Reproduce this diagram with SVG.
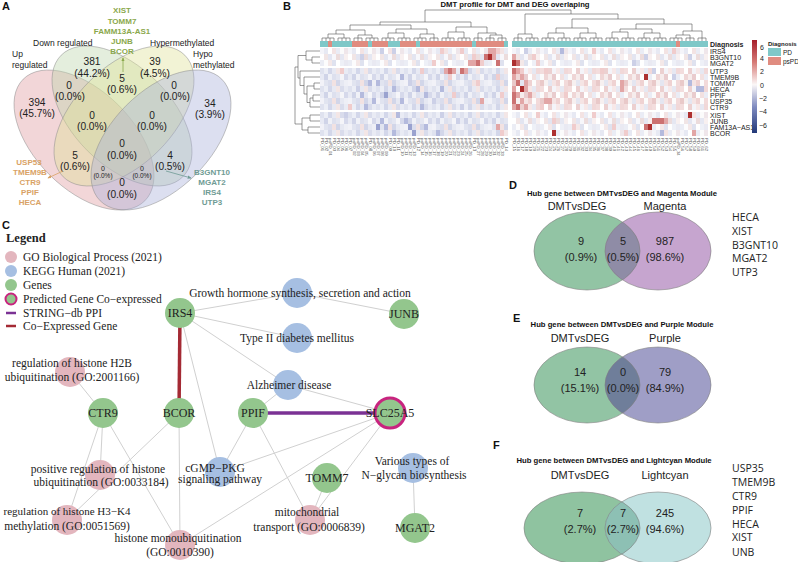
<svg xmlns="http://www.w3.org/2000/svg" width="798" height="562" viewBox="0 0 798 562">
<style>
.pl{font-family:"Liberation Sans",Arial,sans-serif;font-weight:bold;font-size:11px;fill:#111}
.vn{font-family:"Liberation Sans",Arial,sans-serif;font-size:10.2px;fill:#222;text-anchor:middle}
.vs{font-family:"Liberation Sans",Arial,sans-serif;font-size:6.5px;fill:#222;text-anchor:middle}
.vl{font-family:"Liberation Sans",Arial,sans-serif;font-size:8.5px;fill:#222}
.gg{font-family:"Liberation Sans",Arial,sans-serif;font-size:8px;font-weight:bold;text-anchor:middle}
.ell{stroke:#8c8c8c;stroke-width:0.5}
.ht{font-family:"Liberation Sans",Arial,sans-serif;font-size:7.7px;font-weight:bold;fill:#111}
.rl{font-family:"Liberation Sans",Arial,sans-serif;font-size:7px;fill:#222}
.cl{font-family:"Liberation Sans",Arial,sans-serif;font-size:4.3px;fill:#555}
.dg{fill:none;stroke:#555;stroke-width:0.6}
.c1{fill:#f0cccc}.c2{fill:#e2a6a6}.c3{fill:#cc7272}.c4{fill:#ad3030}
.d1{fill:#ccd0e7}.d2{fill:#b4badd}.d3{fill:#9aa2cf}
.lg{font-family:"Liberation Serif","Times New Roman",serif;font-size:11.5px;fill:#222}
.nt{font-family:"Liberation Serif","Times New Roman",serif;font-size:11.5px;fill:#222;text-anchor:middle}
.gt{font-family:"Liberation Serif","Times New Roman",serif;font-size:12px;fill:#222;text-anchor:middle}
.gn{fill:#93c68d}
.go{fill:#e3b6be}
.kg{fill:#a6bfe2}
.ed{stroke:#d0d0d0;stroke-width:1;fill:none}
.vt{font-family:"Liberation Sans",Arial,sans-serif;font-size:11px;fill:#222;text-anchor:middle}
.gl{font-family:"Open Sans","Liberation Sans",sans-serif;font-size:10.5px;fill:#222}
.vo{stroke:#7d7d7d;stroke-width:0.6}
</style>
<defs>
<marker id="mG" viewBox="0 0 6 6" refX="5" refY="3" markerWidth="5" markerHeight="5" orient="auto"><path d="M0,0.5L6,3L0,5.5z" fill="#8aa84c"/></marker>
<marker id="mO" viewBox="0 0 6 6" refX="5" refY="3" markerWidth="5" markerHeight="5" orient="auto"><path d="M0,0.5L6,3L0,5.5z" fill="#d9a265"/></marker>
<marker id="mT" viewBox="0 0 6 6" refX="5" refY="3" markerWidth="5" markerHeight="5" orient="auto"><path d="M0,0.5L6,3L0,5.5z" fill="#6f9b94"/></marker>
<pattern id="pN" patternUnits="userSpaceOnUse" x="0" y="0" width="28" height="18">
<rect x="0" y="0" width="4" height="6" fill="#f4f4f9"/><rect x="4" y="0" width="4" height="6" fill="#e7e9f3"/><rect x="8" y="0" width="4" height="6" fill="#ffffff"/><rect x="12" y="0" width="4" height="6" fill="#f3e3e3"/><rect x="16" y="0" width="4" height="6" fill="#eaecf5"/><rect x="20" y="0" width="4" height="6" fill="#fbfbfb"/><rect x="24" y="0" width="4" height="6" fill="#efe6ea"/>
<rect x="0" y="6" width="4" height="6" fill="#ffffff"/><rect x="4" y="6" width="4" height="6" fill="#f1e5e5"/><rect x="8" y="6" width="4" height="6" fill="#e3e5f1"/><rect x="12" y="6" width="4" height="6" fill="#f7f7fb"/><rect x="16" y="6" width="4" height="6" fill="#ecdcdc"/><rect x="20" y="6" width="4" height="6" fill="#e5e7f2"/><rect x="24" y="6" width="4" height="6" fill="#f8f0f0"/>
<rect x="0" y="12" width="4" height="6" fill="#ebedf5"/><rect x="4" y="12" width="4" height="6" fill="#fcfcfd"/><rect x="8" y="12" width="4" height="6" fill="#f4e8e8"/><rect x="12" y="12" width="4" height="6" fill="#dfe2ef"/><rect x="16" y="12" width="4" height="6" fill="#ffffff"/><rect x="20" y="12" width="4" height="6" fill="#eef0f7"/><rect x="24" y="12" width="4" height="6" fill="#e9e9f2"/>
</pattern>
<pattern id="pB" patternUnits="userSpaceOnUse" x="0" y="0" width="28" height="18">
<rect x="0" y="0" width="4" height="6" fill="#dfe2ef"/><rect x="4" y="0" width="4" height="6" fill="#eceef6"/><rect x="8" y="0" width="4" height="6" fill="#d3d7ea"/><rect x="12" y="0" width="4" height="6" fill="#e7e9f3"/><rect x="16" y="0" width="4" height="6" fill="#f3e6e6"/><rect x="20" y="0" width="4" height="6" fill="#d9dcec"/><rect x="24" y="0" width="4" height="6" fill="#e9ebf4"/>
<rect x="0" y="6" width="4" height="6" fill="#e8eaf4"/><rect x="4" y="6" width="4" height="6" fill="#d0d4e8"/><rect x="8" y="6" width="4" height="6" fill="#f0f1f7"/><rect x="12" y="6" width="4" height="6" fill="#dde0ee"/><rect x="16" y="6" width="4" height="6" fill="#e4e6f1"/><rect x="20" y="6" width="4" height="6" fill="#f5f5f9"/><rect x="24" y="6" width="4" height="6" fill="#d6d9eb"/>
<rect x="0" y="12" width="4" height="6" fill="#f2f2f8"/><rect x="4" y="12" width="4" height="6" fill="#e1e4f0"/><rect x="8" y="12" width="4" height="6" fill="#dadded"/><rect x="12" y="12" width="4" height="6" fill="#f2e2e2"/><rect x="16" y="12" width="4" height="6" fill="#d2d6e9"/><rect x="20" y="12" width="4" height="6" fill="#e6e8f2"/><rect x="24" y="12" width="4" height="6" fill="#eeeff6"/>
</pattern>
<pattern id="pW" patternUnits="userSpaceOnUse" x="0" y="0" width="28" height="18">
<rect x="0" y="0" width="4" height="6" fill="#f3dddd"/><rect x="4" y="0" width="4" height="6" fill="#ffffff"/><rect x="8" y="0" width="4" height="6" fill="#ecd0d0"/><rect x="12" y="0" width="4" height="6" fill="#f4f4f9"/><rect x="16" y="0" width="4" height="6" fill="#f7e8e8"/><rect x="20" y="0" width="4" height="6" fill="#e6e8f2"/><rect x="24" y="0" width="4" height="6" fill="#f1d8d8"/>
<rect x="0" y="6" width="4" height="6" fill="#fbfbfb"/><rect x="4" y="6" width="4" height="6" fill="#efd6d6"/><rect x="8" y="6" width="4" height="6" fill="#f6ecec"/><rect x="12" y="6" width="4" height="6" fill="#e9ccce"/><rect x="16" y="6" width="4" height="6" fill="#ffffff"/><rect x="20" y="6" width="4" height="6" fill="#f2e1e1"/><rect x="24" y="6" width="4" height="6" fill="#eaecf5"/>
<rect x="0" y="12" width="4" height="6" fill="#e9c9c9"/><rect x="4" y="12" width="4" height="6" fill="#f7f0f0"/><rect x="8" y="12" width="4" height="6" fill="#e4e6f1"/><rect x="12" y="12" width="4" height="6" fill="#f5e4e4"/><rect x="16" y="12" width="4" height="6" fill="#efd2d2"/><rect x="20" y="12" width="4" height="6" fill="#fcfcfc"/><rect x="24" y="12" width="4" height="6" fill="#f2dada"/>
</pattern>
<linearGradient id="cbar" x1="0" y1="0" x2="0" y2="1">
<stop offset="0" stop-color="#a51f2b"/><stop offset="0.24" stop-color="#d67b77"/><stop offset="0.48" stop-color="#fbf7f7"/><stop offset="0.72" stop-color="#7f8bc0"/><stop offset="1" stop-color="#233878"/>
</linearGradient>
<clipPath id="cD"><ellipse cx="587" cy="251" rx="53" ry="39"/></clipPath>
<clipPath id="cE"><ellipse cx="587" cy="385" rx="53" ry="38"/></clipPath>
<clipPath id="cF"><ellipse cx="582" cy="528" rx="58" ry="36"/></clipPath>
</defs>

<!-- Panel labels -->
<text class="pl" x="2" y="10">A</text>
<text class="pl" x="283" y="10">B</text>
<text class="pl" x="2" y="229">C</text>
<text class="pl" x="509" y="189">D</text>
<text class="pl" x="513" y="322">E</text>
<text class="pl" x="493" y="449">F</text>

<!-- Panel A Venn -->
<g id="venn4">
<g id="set-up"><ellipse class="ell" cx="84" cy="140" rx="86" ry="49" transform="rotate(45 84 140)" fill="#df989d" fill-opacity="0.4"/></g>
<g id="set-down"><ellipse class="ell" cx="122" cy="116" rx="86" ry="49" transform="rotate(45 122 116)" fill="#bcd4aa" fill-opacity="0.4"/></g>
<g id="set-hyper"><ellipse class="ell" cx="124" cy="116" rx="86" ry="49" transform="rotate(-45 124 116)" fill="#dee196" fill-opacity="0.4"/></g>
<g id="set-hypo"><ellipse class="ell" cx="161" cy="140" rx="86" ry="49" transform="rotate(-45 161 140)" fill="#a7afd9" fill-opacity="0.4"/></g>
<text class="vl" x="12" y="57">Up</text>
<text class="vl" x="12" y="68">regulated</text>
<text class="vl" x="33" y="46">Down regulated</text>
<text class="vl" x="150" y="46">Hypermethylated</text>
<text class="vl" x="193" y="57">Hypo</text>
<text class="vl" x="193" y="68">methylated</text>
<text class="vn" x="37" y="106">394</text><text class="vn" x="37" y="117">(45.7%)</text>
<text class="vn" x="92" y="65">381</text><text class="vn" x="92" y="76.5">(44.2%)</text>
<text class="vn" x="122" y="82">5</text><text class="vn" x="122" y="93">(0.6%)</text>
<text class="vn" x="155" y="65">39</text><text class="vn" x="155" y="76.5">(4.5%)</text>
<text class="vn" x="210" y="107">34</text><text class="vn" x="210" y="118">(3.9%)</text>
<text class="vn" x="69" y="89">0</text><text class="vn" x="70" y="100">(0.0%)</text>
<text class="vn" x="92" y="119">0</text><text class="vn" x="92" y="130">(0.0%)</text>
<text class="vn" x="174" y="89">0</text><text class="vn" x="175" y="100">(0.0%)</text>
<text class="vn" x="152" y="119">0</text><text class="vn" x="152" y="130">(0.0%)</text>
<text class="vn" x="122" y="147">0</text><text class="vn" x="122" y="159">(0.0%)</text>
<text class="vn" x="75" y="159">5</text><text class="vn" x="75" y="170">(0.6%)</text>
<text class="vn" x="170" y="159">4</text><text class="vn" x="170" y="170">(0.5%)</text>
<text class="vs" x="103" y="171" style="font-size:7px">0</text><text class="vs" x="103" y="178">(0.0%)</text>
<text class="vs" x="142" y="171" style="font-size:7px">0</text><text class="vs" x="142" y="178">(0.0%)</text>
<text class="vn" x="122" y="186">0</text><text class="vn" x="122" y="197.5">(0.0%)</text>
<text class="gg" x="122" y="13" fill="#8aa84c">XIST</text>
<text class="gg" x="122" y="24" fill="#8aa84c">TOMM7</text>
<text class="gg" x="122" y="34" fill="#8aa84c">FAMM13A-AS1</text>
<text class="gg" x="122" y="44" fill="#8aa84c">JUNB</text>
<text class="gg" x="122" y="54" fill="#8aa84c">BCOR</text>
<text class="gg" x="29" y="165" fill="#d9a265">USP53</text>
<text class="gg" x="30" y="175" fill="#d9a265">TMEM9B</text>
<text class="gg" x="30" y="185" fill="#d9a265">CTR9</text>
<text class="gg" x="30" y="195" fill="#d9a265">PPIF</text>
<text class="gg" x="30" y="205" fill="#d9a265">HECA</text>
<text class="gg" x="212" y="175" fill="#6f9b94">B3GNT10</text>
<text class="gg" x="212" y="185" fill="#6f9b94">MGAT2</text>
<text class="gg" x="212" y="195" fill="#6f9b94">IRS4</text>
<text class="gg" x="212" y="205" fill="#6f9b94">UTP3</text>
<line x1="123" y1="72" x2="123" y2="58" stroke="#8aa84c" stroke-width="0.8" marker-end="url(#mG)"/>
<line x1="63" y1="171" x2="48" y2="178" stroke="#d9a265" stroke-width="0.8" marker-end="url(#mO)"/>
<line x1="166" y1="171" x2="191" y2="178" stroke="#6f9b94" stroke-width="0.8" marker-end="url(#mT)"/>
</g>

<!-- Panel B heatmap -->
<g id="heatmap">
<text class="ht" x="515" y="7" text-anchor="middle">DMT profile for DMT and DEG overlaping</text>
<path class="dg" d="M425,10H571M425,10V22M571,10V14
M380,22H471M380,22V25M471,22V27
M350,25H411M350,25V30M411,25V29
M336,30H365M336,30V34M365,30V35
M396,29H427M396,29V33M427,29V34
M456,27H487M456,27V32M487,27V33
M328,34H344M328,34V38M344,34V38
M358,35H372M358,35V38M372,35V38
M388,33H404M388,33V38M404,33V38
M420,34H434M420,34V38M434,34V38
M448,32H464M448,32V38M464,32V38
M490,35H502M490,35V38M502,35V38
M478,33H496M478,33V38M496,33V35
M322,38H334M338,38H350M354,38H362M366,38H378M382,38H394M398,38H410M414,38H426M430,38H438M442,38H454M458,38H470M474,38H482M486,38H494M498,38H506
M322,38v3m4-3v3m4-3v3m4-3v3m4-3v3m4-3v3m4-3v3m4-3v3m4-3v3m4-3v3m4-3v3m4-3v3m4-3v3m4-3v3m4-3v3m4-3v3m4-3v3m4-3v3m4-3v3m4-3v3m4-3v3m4-3v3m4-3v3m4-3v3m4-3v3m4-3v3m4-3v3m4-3v3m4-3v3m4-3v3m4-3v3m4-3v3m4-3v3m4-3v3m4-3v3m4-3v3m4-3v3m4-3v3m4-3v3m4-3v3m4-3v3m4-3v3m4-3v3m4-3v3m4-3v3m4-3v3m4-3v3
M525,14H618M525,14V34M618,14V19
M572,19H664M572,19V28M664,19V24
M556,28H588M556,28V33M588,28V33
M636,24H692M636,24V29M692,24V31
M620,29H652M620,29V32M652,29V33
M683,31H702M683,31V35M702,31V38
M518,34H532M518,34V38M532,34V38
M548,33H564M548,33V38M564,33V38
M580,33H596M580,33V38M596,33V38
M612,32H628M612,32V38M628,32V38
M644,33H660M644,33V38M660,33V38
M676,35H690M676,35V38M690,35V38
M514,38H522M526,38H538M542,38H554M558,38H570M574,38H586M590,38H602M606,38H618M622,38H634M638,38H650M654,38H666M670,38H682M686,38H694M698,38H706
M514,38v3m4-3v3m4-3v3m4-3v3m4-3v3m4-3v3m4-3v3m4-3v3m4-3v3m4-3v3m4-3v3m4-3v3m4-3v3m4-3v3m4-3v3m4-3v3m4-3v3m4-3v3m4-3v3m4-3v3m4-3v3m4-3v3m4-3v3m4-3v3m4-3v3m4-3v3m4-3v3m4-3v3m4-3v3m4-3v3m4-3v3m4-3v3m4-3v3m4-3v3m4-3v3m4-3v3m4-3v3m4-3v3m4-3v3m4-3v3m4-3v3m4-3v3m4-3v3m4-3v3m4-3v3m4-3v3m4-3v3m4-3v3m4-3v3"/>
<path class="dg" d="M312,57H320M312,63H320M312,57V63
M306,51H320M306,60H312M306,51V60
M314,83H320M314,89H320M314,83V89
M313,95H320M313,101H320M313,95V101
M310,98H313M310,107H320M310,98V107
M307,86H314M307,102.5H310M307,86V102.5
M304,77H320M304,94H307M304,77V94
M300,71H320M300,85.5H304M300,71V85.5
M310,115H320M310,121H320M310,115V121
M308,127H320M308,133H320M308,127V133
M302,118H310M302,130H308M302,118V130
M298,55.5H306M298,78H300M298,55.5V78
M295,67H298M295,124H302M295,67V124"/>
<!-- annotation bar -->
<rect x="320" y="41" width="188" height="6" fill="#7fc8c8"/>
<rect x="512" y="41" width="196" height="6" fill="#7fc8c8"/>
<g fill="#e08c80">
<rect x="328" y="41" width="4" height="6"/><rect x="352" y="41" width="16" height="6"/><rect x="372" y="41" width="16" height="6"/><rect x="400" y="41" width="16" height="6"/><rect x="420" y="41" width="52" height="6"/><rect x="476" y="41" width="28" height="6"/><rect x="676" y="41" width="4" height="6"/>
</g>
<!-- base cells -->
<g transform="translate(320,48)"><rect width="188" height="18" fill="url(#pN)"/></g>
<g transform="translate(320,68)"><rect width="188" height="42" fill="url(#pB)"/></g>
<g transform="translate(320,112)"><rect width="188" height="24" fill="url(#pB)"/></g>
<g transform="translate(512,48)"><rect width="196" height="18" fill="url(#pN)"/></g>
<g transform="translate(512,68)"><rect width="196" height="42" fill="url(#pW)"/></g>
<g transform="translate(512,112)"><rect width="196" height="24" fill="url(#pN)"/></g>
<!-- highlighted cells -->
<g>
<rect class="c2" x="488" y="48" width="4" height="6"/><rect class="c2" x="492" y="48" width="4" height="6"/><rect class="c1" x="496" y="48" width="4" height="6"/><rect class="d1" x="380" y="48" width="4" height="6"/><rect class="d1" x="392" y="48" width="4" height="6"/><rect class="c1" x="460" y="48" width="4" height="6"/><rect class="c1" x="440" y="48" width="4" height="6"/>
<rect class="c3" x="484" y="54" width="4" height="6"/><rect class="c4" x="488" y="54" width="4" height="6"/><rect class="c2" x="492" y="54" width="4" height="6"/><rect class="c1" x="472" y="54" width="4" height="6"/><rect class="d1" x="360" y="54" width="4" height="6"/>
<rect class="c2" x="468" y="60" width="4" height="6"/><rect class="c2" x="472" y="60" width="4" height="6"/><rect class="c3" x="476" y="60" width="4" height="6"/><rect class="c1" x="480" y="60" width="4" height="6"/><rect class="c3" x="496" y="60" width="4" height="6"/><rect class="c1" x="432" y="60" width="4" height="6"/>
<rect class="c2" x="444" y="68" width="4" height="6"/><rect class="c3" x="448" y="68" width="4" height="6"/><rect class="c2" x="452" y="68" width="4" height="6"/><rect class="c3" x="460" y="68" width="4" height="6"/><rect class="c2" x="464" y="68" width="4" height="6"/><rect class="c1" x="420" y="68" width="4" height="6"/><rect class="c1" x="340" y="68" width="4" height="6"/>
<rect class="c1" x="448" y="74" width="4" height="6"/><rect class="d2" x="400" y="74" width="4" height="6"/><rect class="c1" x="496" y="74" width="4" height="6"/>
<rect class="d2" x="368" y="80" width="4" height="6"/><rect class="d2" x="376" y="80" width="4" height="6"/><rect class="d1" x="408" y="80" width="4" height="6"/><rect class="c1" x="476" y="80" width="4" height="6"/>
<rect class="d2" x="392" y="86" width="4" height="6"/><rect class="d2" x="416" y="86" width="4" height="6"/><rect class="d1" x="356" y="86" width="4" height="6"/><rect class="d2" x="440" y="86" width="4" height="6"/>
<rect class="d2" x="360" y="92" width="4" height="6"/><rect class="d3" x="384" y="92" width="4" height="6"/><rect class="d2" x="424" y="92" width="4" height="6"/><rect class="c1" x="452" y="92" width="4" height="6"/><rect class="c1" x="500" y="92" width="4" height="6"/>
<rect class="d2" x="372" y="98" width="4" height="6"/><rect class="d2" x="400" y="98" width="4" height="6"/><rect class="d1" x="432" y="98" width="4" height="6"/><rect class="c2" x="480" y="98" width="4" height="6"/>
<rect class="d2" x="364" y="104" width="4" height="6"/><rect class="c1" x="348" y="104" width="4" height="6"/><rect class="d2" x="420" y="104" width="4" height="6"/><rect class="d1" x="460" y="104" width="4" height="6"/>
<rect class="d1" x="344" y="112" width="4" height="6"/><rect class="d2" x="396" y="112" width="4" height="6"/><rect class="d1" x="440" y="112" width="4" height="6"/>
<rect class="d2" x="380" y="118" width="4" height="6"/><rect class="d2" x="404" y="118" width="4" height="6"/><rect class="d1" x="456" y="118" width="4" height="6"/>
<rect class="d3" x="376" y="124" width="4" height="6"/><rect class="d2" x="384" y="124" width="4" height="6"/><rect class="d3" x="408" y="124" width="4" height="6"/><rect class="d2" x="424" y="124" width="4" height="6"/><rect class="c2" x="496" y="124" width="4" height="6"/>
<rect class="d2" x="392" y="130" width="4" height="6"/><rect class="d3" x="412" y="130" width="4" height="6"/><rect class="d2" x="436" y="130" width="4" height="6"/><rect class="c1" x="500" y="130" width="4" height="6"/>
<rect class="d1" x="524" y="48" width="4" height="6"/><rect class="d2" x="560" y="48" width="4" height="6"/><rect class="c1" x="592" y="48" width="4" height="6"/><rect class="c1" x="672" y="48" width="4" height="6"/>
<rect class="c2" x="512" y="54" width="4" height="6"/><rect class="c1" x="532" y="54" width="4" height="6"/><rect class="d1" x="644" y="54" width="4" height="6"/><rect class="d1" x="688" y="54" width="4" height="6"/>
<rect class="c4" x="512" y="60" width="4" height="6"/><rect class="c3" x="516" y="60" width="4" height="6"/><rect class="c1" x="536" y="60" width="4" height="6"/><rect class="d1" x="632" y="60" width="4" height="6"/>
<rect class="c3" x="512" y="68" width="4" height="6"/><rect class="c2" x="516" y="68" width="4" height="6"/><rect class="c1" x="520" y="68" width="4" height="6"/><rect class="c1" x="544" y="68" width="4" height="6"/><rect class="c1" x="600" y="68" width="4" height="6"/><rect class="d1" x="652" y="68" width="4" height="6"/>
<rect class="c2" x="512" y="74" width="4" height="6"/><rect class="c2" x="520" y="74" width="4" height="6"/><rect class="c4" x="644" y="74" width="4" height="6"/><rect class="d1" x="672" y="74" width="4" height="6"/>
<rect class="c3" x="516" y="80" width="4" height="6"/><rect class="c2" x="524" y="80" width="4" height="6"/><rect class="c2" x="620" y="80" width="4" height="6"/><rect class="d2" x="688" y="80" width="4" height="6"/>
<rect class="c2" x="512" y="86" width="4" height="6"/><rect class="c4" x="520" y="86" width="4" height="6"/><rect class="c2" x="524" y="86" width="4" height="6"/><rect class="c2" x="620" y="86" width="4" height="6"/><rect class="d2" x="696" y="86" width="4" height="6"/><rect class="d2" x="700" y="86" width="4" height="6"/>
<rect class="c3" x="512" y="92" width="4" height="6"/><rect class="c2" x="516" y="92" width="4" height="6"/><rect class="c2" x="528" y="92" width="4" height="6"/><rect class="c1" x="564" y="92" width="4" height="6"/><rect class="c1" x="656" y="92" width="4" height="6"/>
<rect class="c3" x="512" y="98" width="4" height="6"/><rect class="c2" x="520" y="98" width="4" height="6"/><rect class="c2" x="544" y="98" width="4" height="6"/><rect class="c2" x="548" y="98" width="4" height="6"/>
<rect class="c2" x="512" y="104" width="4" height="6"/><rect class="c3" x="516" y="104" width="4" height="6"/><rect class="c2" x="524" y="104" width="4" height="6"/><rect class="c1" x="540" y="104" width="4" height="6"/>
<rect class="c4" x="688" y="112" width="4" height="6"/><rect class="c1" x="536" y="112" width="4" height="6"/><rect class="c1" x="592" y="112" width="4" height="6"/>
<rect class="c3" x="652" y="118" width="4" height="6"/><rect class="c3" x="656" y="118" width="4" height="6"/><rect class="c3" x="660" y="118" width="4" height="6"/><rect class="c2" x="664" y="118" width="4" height="6"/><rect class="c1" x="552" y="118" width="4" height="6"/>
<rect class="c4" x="648" y="124" width="4" height="6"/><rect class="c3" x="644" y="124" width="4" height="6"/><rect class="c1" x="572" y="124" width="4" height="6"/><rect class="c1" x="612" y="124" width="4" height="6"/>
<rect class="c4" x="552" y="130" width="4" height="6"/><rect class="c1" x="624" y="130" width="4" height="6"/><rect class="d2" x="660" y="130" width="4" height="6"/><rect class="c2" x="692" y="130" width="4" height="6"/>
</g>
<!-- row labels -->
<text class="rl" x="710" y="46.5" font-weight="bold">Diagnosis</text>
<text class="rl" x="710" y="53.5">IRS4</text>
<text class="rl" x="710" y="59.5">B3GNT10</text>
<text class="rl" x="710" y="65.5">MGAT2</text>
<text class="rl" x="710" y="73.5">UTP3</text>
<text class="rl" x="710" y="79.5">TMEM9B</text>
<text class="rl" x="710" y="85.5">TOMM7</text>
<text class="rl" x="710" y="91.5">HECA</text>
<text class="rl" x="710" y="97.5">PPIF</text>
<text class="rl" x="710" y="103.5">USP35</text>
<text class="rl" x="710" y="109.5">CTR9</text>
<text class="rl" x="710" y="117.5">XIST</text>
<text class="rl" x="710" y="123.5">JUNB</text>
<text class="rl" x="710" y="129.5">FAM13A−AS1</text>
<text class="rl" x="710" y="135.5">BCOR</text>
<!-- column labels -->
<text class="cl" transform="rotate(90)">
<tspan x="138" y="-320.5">PD_01</tspan><tspan x="138" y="-324.5">PD_02</tspan><tspan x="138" y="-328.5">psPD_01</tspan><tspan x="138" y="-332.5">PD_03</tspan><tspan x="138" y="-336.5">PD_04</tspan><tspan x="138" y="-340.5">PD_05</tspan><tspan x="138" y="-344.5">PD_06</tspan><tspan x="138" y="-348.5">PD_07</tspan><tspan x="138" y="-352.5">psPD_02</tspan><tspan x="138" y="-356.5">psPD_03</tspan><tspan x="138" y="-360.5">psPD_04</tspan><tspan x="138" y="-364.5">psPD_05</tspan><tspan x="138" y="-368.5">PD_08</tspan><tspan x="138" y="-372.5">psPD_06</tspan><tspan x="138" y="-376.5">psPD_07</tspan><tspan x="138" y="-380.5">psPD_08</tspan><tspan x="138" y="-384.5">psPD_09</tspan><tspan x="138" y="-388.5">PD_09</tspan><tspan x="138" y="-392.5">PD_10</tspan><tspan x="138" y="-396.5">PD_11</tspan><tspan x="138" y="-400.5">psPD_10</tspan><tspan x="138" y="-404.5">psPD_11</tspan><tspan x="138" y="-408.5">psPD_12</tspan><tspan x="138" y="-412.5">psPD_13</tspan><tspan x="138" y="-416.5">PD_12</tspan><tspan x="138" y="-420.5">psPD_14</tspan><tspan x="138" y="-424.5">psPD_15</tspan><tspan x="138" y="-428.5">psPD_16</tspan><tspan x="138" y="-432.5">psPD_17</tspan><tspan x="138" y="-436.5">psPD_18</tspan><tspan x="138" y="-440.5">psPD_19</tspan><tspan x="138" y="-444.5">psPD_20</tspan><tspan x="138" y="-448.5">psPD_21</tspan><tspan x="138" y="-452.5">psPD_22</tspan><tspan x="138" y="-456.5">psPD_23</tspan><tspan x="138" y="-460.5">psPD_24</tspan><tspan x="138" y="-464.5">psPD_25</tspan><tspan x="138" y="-468.5">psPD_26</tspan><tspan x="138" y="-472.5">PD_13</tspan><tspan x="138" y="-476.5">psPD_27</tspan><tspan x="138" y="-480.5">psPD_28</tspan><tspan x="138" y="-484.5">psPD_29</tspan><tspan x="138" y="-488.5">psPD_30</tspan><tspan x="138" y="-492.5">psPD_31</tspan><tspan x="138" y="-496.5">psPD_32</tspan><tspan x="138" y="-500.5">psPD_33</tspan><tspan x="138" y="-504.5">PD_14</tspan>
<tspan x="138" y="-512.5">PD_15</tspan><tspan x="138" y="-516.5">PD_16</tspan><tspan x="138" y="-520.5">PD_17</tspan><tspan x="138" y="-524.5">PD_18</tspan><tspan x="138" y="-528.5">PD_19</tspan><tspan x="138" y="-532.5">PD_20</tspan><tspan x="138" y="-536.5">PD_21</tspan><tspan x="138" y="-540.5">PD_22</tspan><tspan x="138" y="-544.5">PD_23</tspan><tspan x="138" y="-548.5">PD_24</tspan><tspan x="138" y="-552.5">PD_25</tspan><tspan x="138" y="-556.5">PD_26</tspan><tspan x="138" y="-560.5">PD_27</tspan><tspan x="138" y="-564.5">PD_28</tspan><tspan x="138" y="-568.5">PD_29</tspan><tspan x="138" y="-572.5">PD_30</tspan><tspan x="138" y="-576.5">PD_31</tspan><tspan x="138" y="-580.5">PD_32</tspan><tspan x="138" y="-584.5">PD_33</tspan><tspan x="138" y="-588.5">PD_34</tspan><tspan x="138" y="-592.5">PD_35</tspan><tspan x="138" y="-596.5">PD_36</tspan><tspan x="138" y="-600.5">PD_37</tspan><tspan x="138" y="-604.5">PD_38</tspan><tspan x="138" y="-608.5">PD_39</tspan><tspan x="138" y="-612.5">PD_40</tspan><tspan x="138" y="-616.5">PD_41</tspan><tspan x="138" y="-620.5">PD_42</tspan><tspan x="138" y="-624.5">PD_43</tspan><tspan x="138" y="-628.5">PD_44</tspan><tspan x="138" y="-632.5">PD_45</tspan><tspan x="138" y="-636.5">PD_46</tspan><tspan x="138" y="-640.5">PD_47</tspan><tspan x="138" y="-644.5">PD_48</tspan><tspan x="138" y="-648.5">PD_49</tspan><tspan x="138" y="-652.5">PD_50</tspan><tspan x="138" y="-656.5">PD_51</tspan><tspan x="138" y="-660.5">PD_52</tspan><tspan x="138" y="-664.5">PD_53</tspan><tspan x="138" y="-668.5">PD_54</tspan><tspan x="138" y="-672.5">PD_55</tspan><tspan x="138" y="-676.5">psPD_34</tspan><tspan x="138" y="-680.5">PD_56</tspan><tspan x="138" y="-684.5">PD_57</tspan><tspan x="138" y="-688.5">PD_58</tspan><tspan x="138" y="-692.5">PD_59</tspan><tspan x="138" y="-696.5">PD_60</tspan><tspan x="138" y="-700.5">PD_61</tspan><tspan x="138" y="-704.5">PD_62</tspan>
</text>
<!-- colour legend -->
<rect x="752" y="40" width="5" height="93" fill="url(#cbar)"/>
<g class="rl" style="font-size:7px">
<text x="760" y="49.5">6</text><text x="760" y="61">4</text><text x="760" y="74">2</text><text x="760" y="87.5">0</text><text x="759" y="100.5">−2</text><text x="759" y="114">−4</text><text x="759" y="128">−6</text>
</g>
<text class="rl" x="768" y="46" font-weight="bold" style="font-size:6px">Diagnosis</text>
<rect x="768" y="48" width="13" height="8" fill="#7fc8c8"/>
<rect x="768" y="57" width="13" height="8" fill="#e08c80"/>
<text class="rl" x="783" y="54.5" style="font-size:6.5px">PD</text>
<text class="rl" x="783" y="63.5" style="font-size:6.5px">psPD</text>
</g>

<!-- Panel C legend -->
<g id="legend-c">
<text class="lg" x="6" y="242" font-weight="bold" style="font-size:12.5px">Legend</text>
<circle cx="11" cy="257" r="6" class="go"/><text class="lg" x="23" y="261">GO Biological Process (2021)</text>
<circle cx="11" cy="271" r="6" class="kg"/><text class="lg" x="23" y="275">KEGG Human (2021)</text>
<circle cx="11" cy="285" r="6" class="gn"/><text class="lg" x="23" y="289">Genes</text>
<circle cx="11" cy="299" r="5.5" class="gn" stroke="#c8247f" stroke-width="2"/><text class="lg" x="23" y="303">Predicted Gene Co−expressed</text>
<line x1="6" y1="313" x2="16" y2="313" stroke="#7b3294" stroke-width="2.5"/><text class="lg" x="23" y="317">STRING−db PPI</text>
<line x1="6" y1="326" x2="16" y2="326" stroke="#a42a34" stroke-width="2.5"/><text class="lg" x="23" y="330">Co−Expressed Gene</text>
</g>

<!-- Panel C network connectors -->
<g id="connectors">
<line class="ed" x1="180" y1="313" x2="297" y2="293"/>
<line class="ed" x1="180" y1="313" x2="297" y2="338"/>
<line class="ed" x1="180" y1="313" x2="288" y2="385"/>
<line class="ed" x1="180" y1="313" x2="220" y2="472"/>
<line class="ed" x1="297" y1="293" x2="404" y2="314"/>
<line class="ed" x1="253" y1="413" x2="288" y2="385"/>
<line class="ed" x1="253" y1="413" x2="220" y2="472"/>
<line class="ed" x1="253" y1="413" x2="310" y2="520"/>
<line class="ed" x1="390" y1="413" x2="288" y2="385"/>
<line class="ed" x1="390" y1="413" x2="220" y2="472"/>
<line class="ed" x1="390" y1="413" x2="180" y2="545"/>
<line class="ed" x1="390" y1="413" x2="310" y2="520"/>
<line class="ed" x1="327" y1="478" x2="310" y2="520"/>
<line class="ed" x1="103" y1="413" x2="70" y2="372"/>
<line class="ed" x1="103" y1="413" x2="100" y2="475"/>
<line class="ed" x1="103" y1="413" x2="67" y2="520"/>
<line class="ed" x1="103" y1="413" x2="180" y2="545"/>
<line class="ed" x1="179" y1="413" x2="180" y2="545"/>
<line class="ed" x1="179" y1="413" x2="67" y2="520"/>
<line class="ed" x1="413" y1="468" x2="415" y2="528"/>
<line x1="180" y1="313" x2="179" y2="413" stroke="#a42a34" stroke-width="3.5"/>
<line x1="253" y1="413" x2="390" y2="413" stroke="#7b3294" stroke-width="3.5"/>
</g>

<!-- Panel C nodes -->
<g id="n-growth"><circle cx="297" cy="293" r="15" class="kg"/></g>
<g id="n-t2d"><circle cx="297" cy="338" r="15" class="kg"/></g>
<g id="n-alz"><circle cx="288" cy="385" r="15" class="kg"/></g>
<g id="n-cgmp"><circle cx="220" cy="472" r="15" class="kg"/></g>
<g id="n-nglycan"><circle cx="413" cy="468" r="15" class="kg"/></g>
<g id="n-h2b"><circle cx="70" cy="372" r="15" class="go"/></g>
<g id="n-posreg"><circle cx="100" cy="475" r="15" class="go"/></g>
<g id="n-h3k4"><circle cx="67" cy="520" r="15" class="go"/></g>
<g id="n-mono"><circle cx="180" cy="545" r="15" class="go"/></g>
<g id="n-mito"><circle cx="310" cy="520" r="15" class="go"/></g>
<g id="n-irs4"><circle cx="180" cy="313" r="15" class="gn"/><text class="gt" x="180" y="317">IRS4</text></g>
<g id="n-junb"><circle cx="404" cy="314" r="15" class="gn"/><text class="gt" x="404" y="318">JUNB</text></g>
<g id="n-ctr9"><circle cx="103" cy="413" r="15" class="gn"/><text class="gt" x="103" y="417">CTR9</text></g>
<g id="n-bcor"><circle cx="179" cy="413" r="15" class="gn"/><text class="gt" x="179" y="417">BCOR</text></g>
<g id="n-ppif"><circle cx="253" cy="413" r="15" class="gn"/><text class="gt" x="253" y="417">PPIF</text></g>
<g id="n-slc25a5"><circle cx="390" cy="413" r="15" class="gn" stroke="#c8247f" stroke-width="3"/><text class="gt" x="390" y="417">SLC25A5</text></g>
<g id="n-tomm7"><circle cx="327" cy="478" r="15" class="gn"/><text class="gt" x="327" y="482">TOMM7</text></g>
<g id="n-mgat2"><circle cx="415" cy="528" r="15" class="gn"/><text class="gt" x="415" y="532">MGAT2</text></g>
<g id="node-labels">
<text class="nt" x="300" y="297">Growth hormone synthesis, secretion and action</text>
<text class="nt" x="297" y="342">Type II diabetes mellitus</text>
<text class="nt" x="289" y="389">Alzheimer disease</text>
<text class="nt" x="215" y="472">cGMP−PKG</text>
<text class="nt" x="220" y="483">signaling pathway</text>
<text class="nt" x="412" y="465">Various types of</text>
<text class="nt" x="414" y="479">N−glycan biosynthesis</text>
<text class="nt" x="72" y="367">regulation of histone H2B</text>
<text class="nt" x="72" y="381">ubiquitination (GO:2001166)</text>
<text class="nt" x="98" y="473">positive regulation of histone</text>
<text class="nt" x="101" y="486">ubiquitination (GO:0033184)</text>
<text class="nt" x="67" y="515" style="font-size:11px">regulation of histone H3−K4</text>
<text class="nt" x="67" y="530">methylation (GO:0051569)</text>
<text class="nt" x="178" y="542">histone monoubiquitination</text>
<text class="nt" x="180" y="556">(GO:0010390)</text>
<text class="nt" x="307" y="516">mitochondrial</text>
<text class="nt" x="309" y="531">transport (GO:0006839)</text>
</g>

<!-- Panel D -->
<g id="venn-d">
<text class="ht" x="622" y="196" text-anchor="middle">Hub gene between DMTvsDEG and Magenta Module</text>
<ellipse cx="587" cy="251" rx="53" ry="39" fill="#92c4a4"/>
<ellipse cx="658" cy="251" rx="53" ry="39" fill="#c6a5cf"/>
<ellipse cx="658" cy="251" rx="53" ry="39" fill="#8f8ca6" clip-path="url(#cD)"/>
<ellipse cx="587" cy="251" rx="53" ry="39" fill="none" class="vo"/>
<ellipse cx="658" cy="251" rx="53" ry="39" fill="none" class="vo"/>
<text class="vt" x="577" y="210">DMTvsDEG</text><text class="vt" x="665" y="210">Magenta</text>
<text class="vt" x="581" y="245">9</text><text class="vt" x="581" y="261">(0.9%)</text>
<text class="vt" x="623" y="245">5</text><text class="vt" x="623" y="261">(0.5%)</text>
<text class="vt" x="665" y="245">987</text><text class="vt" x="665" y="261">(98.6%)</text>
<text class="gl" x="732" y="221">HECA</text>
<text class="gl" x="732" y="235">XIST</text>
<text class="gl" x="732" y="249">B3GNT10</text>
<text class="gl" x="732" y="262">MGAT2</text>
<text class="gl" x="732" y="276">UTP3</text>
</g>

<!-- Panel E -->
<g id="venn-e">
<text class="ht" x="622" y="327" text-anchor="middle">Hub gene between DMTvsDEG and Purple Module</text>
<ellipse cx="587" cy="385" rx="53" ry="38" fill="#92c4a4"/>
<ellipse cx="658" cy="385" rx="53" ry="38" fill="#9f9ec6"/>
<ellipse cx="658" cy="385" rx="53" ry="38" fill="#6f7e9a" clip-path="url(#cE)"/>
<ellipse cx="587" cy="385" rx="53" ry="38" fill="none" class="vo"/>
<ellipse cx="658" cy="385" rx="53" ry="38" fill="none" class="vo"/>
<text class="vt" x="580" y="342">DMTvsDEG</text><text class="vt" x="665" y="342">Purple</text>
<text class="vt" x="580" y="376">14</text><text class="vt" x="580" y="392">(15.1%)</text>
<text class="vt" x="623" y="376">0</text><text class="vt" x="623" y="392">(0.0%)</text>
<text class="vt" x="665" y="376">79</text><text class="vt" x="665" y="392">(84.9%)</text>
</g>

<!-- Panel F -->
<g id="venn-f">
<text class="ht" x="614" y="463" text-anchor="middle">Hub gene between DMTvsDEG and Lightcyan Module</text>
<ellipse cx="582" cy="528" rx="58" ry="36" fill="#8fc3a0"/>
<ellipse cx="658" cy="528" rx="53" ry="36" fill="#c0e1e1"/>
<ellipse cx="658" cy="528" rx="53" ry="36" fill="#8dc0b4" clip-path="url(#cF)"/>
<ellipse cx="582" cy="528" rx="58" ry="36" fill="none" class="vo"/>
<ellipse cx="658" cy="528" rx="53" ry="36" fill="none" class="vo"/>
<text class="vt" x="580" y="479">DMTvsDEG</text><text class="vt" x="665" y="479">Lightcyan</text>
<text class="vt" x="580" y="517">7</text><text class="vt" x="580" y="533">(2.7%)</text>
<text class="vt" x="623" y="517">7</text><text class="vt" x="623" y="533">(2.7%)</text>
<text class="vt" x="665" y="517">245</text><text class="vt" x="665" y="533">(94.6%)</text>
<text class="gl" x="732" y="472">USP35</text>
<text class="gl" x="732" y="486">TMEM9B</text>
<text class="gl" x="732" y="500">CTR9</text>
<text class="gl" x="732" y="514">PPIF</text>
<text class="gl" x="732" y="528">HECA</text>
<text class="gl" x="732" y="541">XIST</text>
<text class="gl" x="732" y="556">UNB</text>
</g>
</svg>
